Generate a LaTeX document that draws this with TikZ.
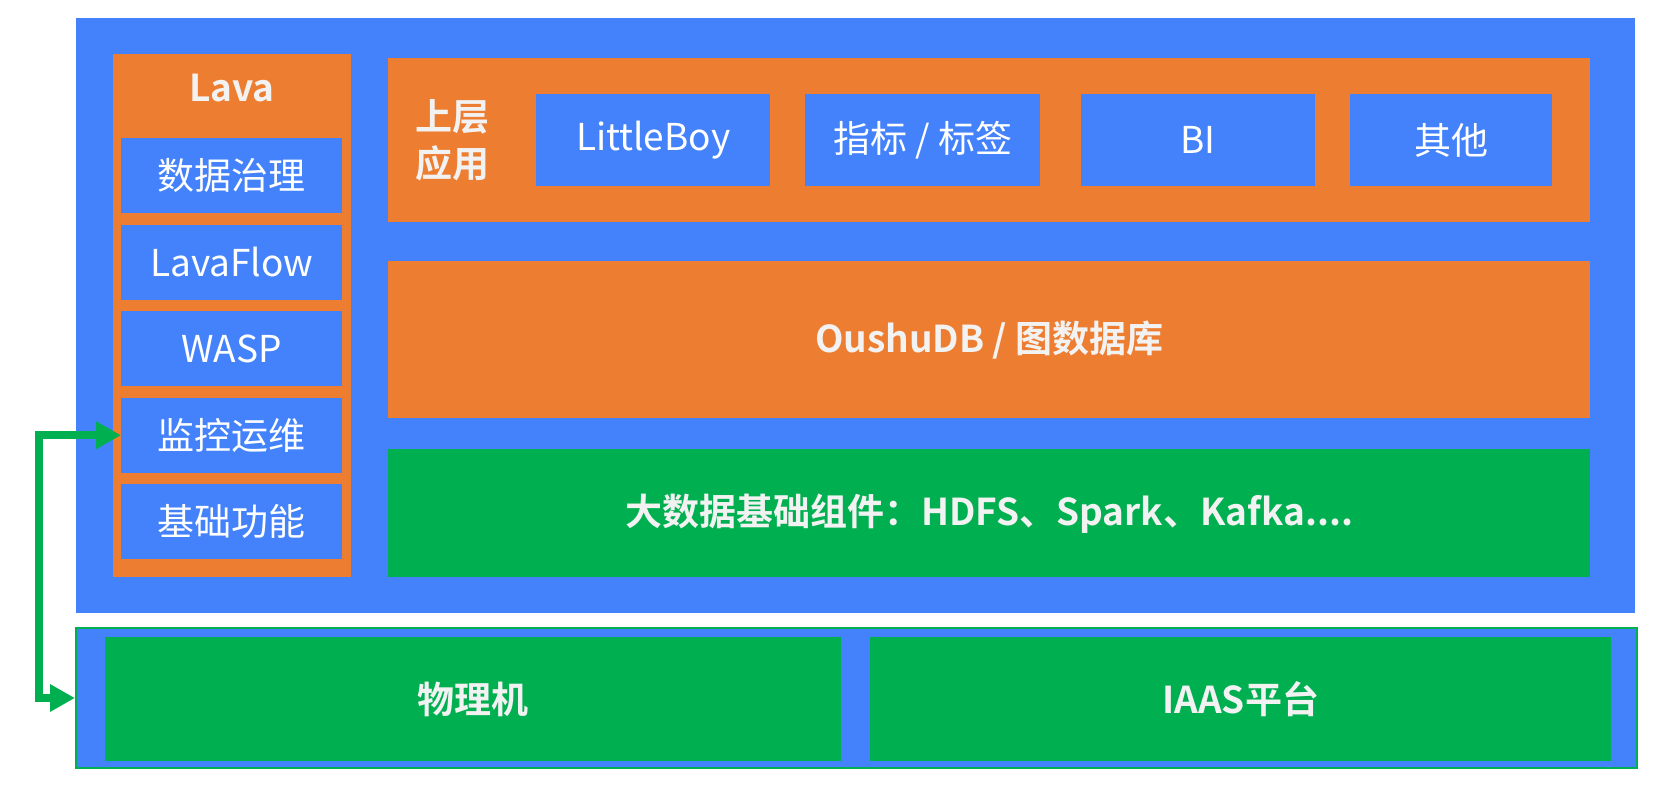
\documentclass[tikz,border=0pt]{standalone}
\usepackage{fontspec}
\newfontfamily\cjk{Noto Sans CJK SC}[BoldFont={Noto Sans CJK SC Bold}]
\usetikzlibrary{arrows.meta}
\definecolor{layerblue}{RGB}{68,130,252}
\definecolor{layerorange}{RGB}{237,125,49}
\definecolor{layergreen}{RGB}{0,176,80}
\tikzset{
    blk/.style={rectangle, inner sep=0pt, anchor=north west},
    plain/.style={text=white, font=\cjk\fontsize{37}{44}\selectfont},
    heading/.style={text=white!95!black, font=\cjk\bfseries\fontsize{37}{47}\selectfont},
    conn/.style={draw=layergreen, line width=8pt, line join=miter,
        {Triangle[length=25pt,width=26pt]}-{Triangle[length=25pt,width=26pt]}},
}
\begin{document}
\begin{tikzpicture}[x=1pt, y=-1pt]
        \useasboundingbox (0,0) rectangle (1670,785);
        % upper frame
        \fill[layerblue] (76,18) rectangle (1635,613);
        \fill[layerorange] (113,54) rectangle (351,577);
        \node[heading] (lava) at (232,88) {Lava};
        \foreach \t [count=\i from 0] in {数据治理,LavaFlow,WASP,监控运维,基础功能}
        {
            \node[blk, plain, fill=layerblue, minimum width=221pt, minimum height=75pt]
                (item\i) at (121,{138+86.5*\i}) {\t};
        }
        \fill[layerorange] (388,58) rectangle (1590,222);
        \node[heading, align=center] (upper) at (452,140) {上层\\应用};
        \foreach \x/\w/\t [count=\i] in {536/234/LittleBoy, 805/235/{指标 / 标签}, 1081/234/BI, 1350/202/其他}
        {
            \node[blk, plain, fill=layerblue, minimum width=\w pt, minimum height=92pt]
                (app\i) at (\x,94) {\t};
        }
        \node[blk, heading, fill=layerorange, minimum width=1202pt, minimum height=157pt]
            (db) at (388,261) {OushuDB / 图数据库};
        \node[blk, heading, fill=layergreen, minimum width=1202pt, minimum height=128pt]
            (bigdata) at (388,449) {大数据基础组件：HDFS、Spark、Kafka....};
        % lower frame
        \node[blk, fill=layerblue, draw=layergreen, line width=2pt, minimum width=1561pt, minimum height=140pt]
            (base) at (75,627) {};
        \node[blk, heading, fill=layergreen, minimum width=736pt, minimum height=124pt]
            (host) at (105,637) {物理机};
        \node[blk, heading, fill=layergreen, minimum width=741pt, minimum height=124pt]
            (iaas) at (870,637) {IAAS平台};
        \draw[conn] (item3.west) -- ++(-82.5,0) |- (base.west);
\end{tikzpicture}
\end{document}
